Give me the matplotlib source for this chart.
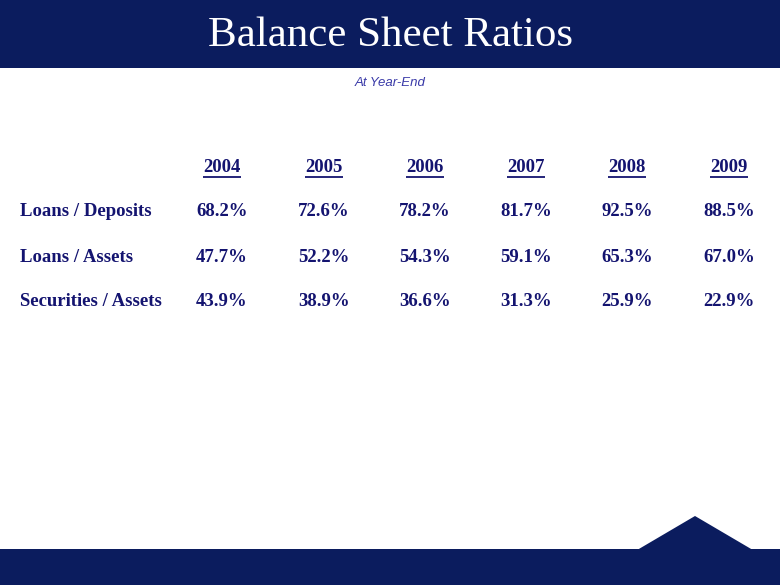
#! /usr/bin/env python
"""Balance sheet ratios table slide"""

import matplotlib
matplotlib.use("Agg")
from matplotlib import pyplot as plt
from matplotlib.patches import Rectangle, Polygon

# Data
years = ["2004", "2005", "2006", "2007", "2008", "2009"]
row_labels = ["Loans / Deposits", "Loans / Assets", "Securities / Assets"]
loans_deposits = [68.2, 72.6, 78.2, 81.7, 92.5, 88.5]
loans_assets = [47.7, 52.2, 54.3, 59.1, 65.3, 67.0]
securities_assets = [43.9, 38.9, 36.6, 31.3, 25.9, 22.9]

NAVY = "#0b1c5e"
TEXT = "#141470"

def main():
    """Entry point"""
    fig = plt.figure(figsize=(7.8, 5.85), dpi=100)
    ax = fig.add_axes([0, 0, 1, 1])
    ax.set_xlim(0, 780)
    ax.set_ylim(585, 0)
    ax.axis("off")

    # header band and footer with the little roof
    ax.add_patch(Rectangle((0, 0), 780, 68, color=NAVY, lw=0))
    ax.add_patch(Rectangle((0, 549), 780, 36, color=NAVY, lw=0))
    ax.add_patch(Polygon([(638, 549.5), (695, 516), (752, 549.5)], closed=True,
                         color=NAVY, lw=0))

    ax.text(390, 36, "Balance Sheet Ratios", color="white", ha="center", va="center",
            fontsize=31, family="Liberation Serif")
    ax.text(390, 82.5, "At Year-End", color="#3a3aa8", ha="center", va="center",
            fontsize=9.5, style="italic", family="Liberation Sans")

    col_x = [222, 324, 425, 526, 627, 729]
    row_y = [212, 257, 301]
    font = dict(family="Liberation Serif", weight="bold", fontsize=13.5, color=TEXT)

    fig.canvas.draw()
    renderer = fig.canvas.get_renderer()
    inv = ax.transData.inverted()
    for x, yr in zip(col_x, years):
        t = ax.text(x, 167, yr, ha="center", va="center", **font)
        bb = t.get_window_extent(renderer)
        (x0, _), (x1, _) = inv.transform([(bb.x0, bb.y0), (bb.x1, bb.y0)])
        ax.plot([x0, x1], [176.5, 176.5], color=TEXT, lw=1.3, solid_capstyle="butt")

    rows = [loans_deposits, loans_assets, securities_assets]
    for y, label, vals in zip(row_y, row_labels, rows):
        ax.text(20, y, label, ha="left", va="center", **font)
        for x, v in zip(col_x, vals):
            ax.text(x, y, f"{v:.1f}%", ha="center", va="center", **font)

    fig.savefig("out.png", dpi=100)

if __name__ == "__main__":
    main()
